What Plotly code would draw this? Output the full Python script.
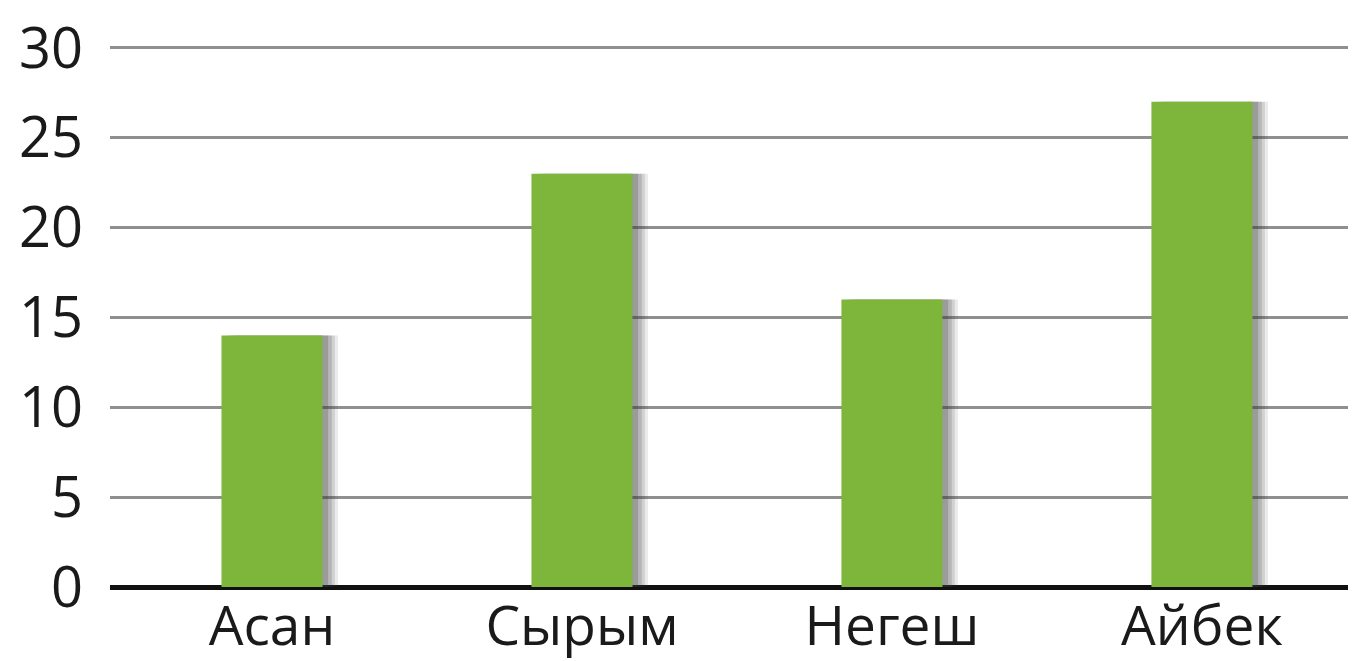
import plotly.graph_objects as go

# ── Data ──────────────────────────────────────────────────────────────────────
names = ["Асан", "Сырым", "Негеш", "Айбек"]
values = [14, 23, 16, 27]
y_ticks = [0, 5, 10, 15, 20, 25, 30]

GREEN = "#7DB63B"
FONT = "Open Sans, Noto Sans, sans-serif"

BAR_W = 0.326

fig = go.Figure()

# soft drop shadow: a few translucent grey bars nudged to the right
for shift, alpha in [(0.05, 0.10), (0.04, 0.14), (0.03, 0.18), (0.018, 0.22)]:
    fig.add_trace(go.Bar(
        x=names, y=values,
        width=BAR_W, offset=-BAR_W / 2 + shift,
        marker=dict(color=f"rgba(60,60,60,{alpha})", line=dict(width=0)),
        hoverinfo="skip", showlegend=False,
    ))

fig.add_trace(go.Bar(
    x=names, y=values,
    width=BAR_W, offset=-BAR_W / 2,
    marker=dict(color=GREEN, line=dict(width=0)),
    showlegend=False,
))

# page body has an 8px default margin, so the figure is sized to fit the window
fig.update_layout(
    barmode="overlay",
    width=1348, height=653,
    paper_bgcolor="white", plot_bgcolor="white",
    margin=dict(l=102, r=0, t=22, b=74),
    font=dict(family=FONT, color="#1a1a1a", size=58),
)
fig.update_xaxes(
    range=[-0.5226, 3.497],
    showgrid=False, zeroline=False,
    showline=False, ticks="",
    tickfont=dict(size=55),
    ticklabelstandoff=2,
    ticklabeloverflow="allow",
    automargin=False,
)
fig.update_yaxes(
    range=[0, 31],
    tickvals=y_ticks,
    showgrid=True, gridcolor="#8f8f8f", gridwidth=3,
    zeroline=True, zerolinecolor="#111111", zerolinewidth=5,
    ticks="", ticklabelstandoff=26,
    tickfont=dict(size=56),
    ticklabeloverflow="allow",
    automargin=False,
)

fig.write_html("out.html")
